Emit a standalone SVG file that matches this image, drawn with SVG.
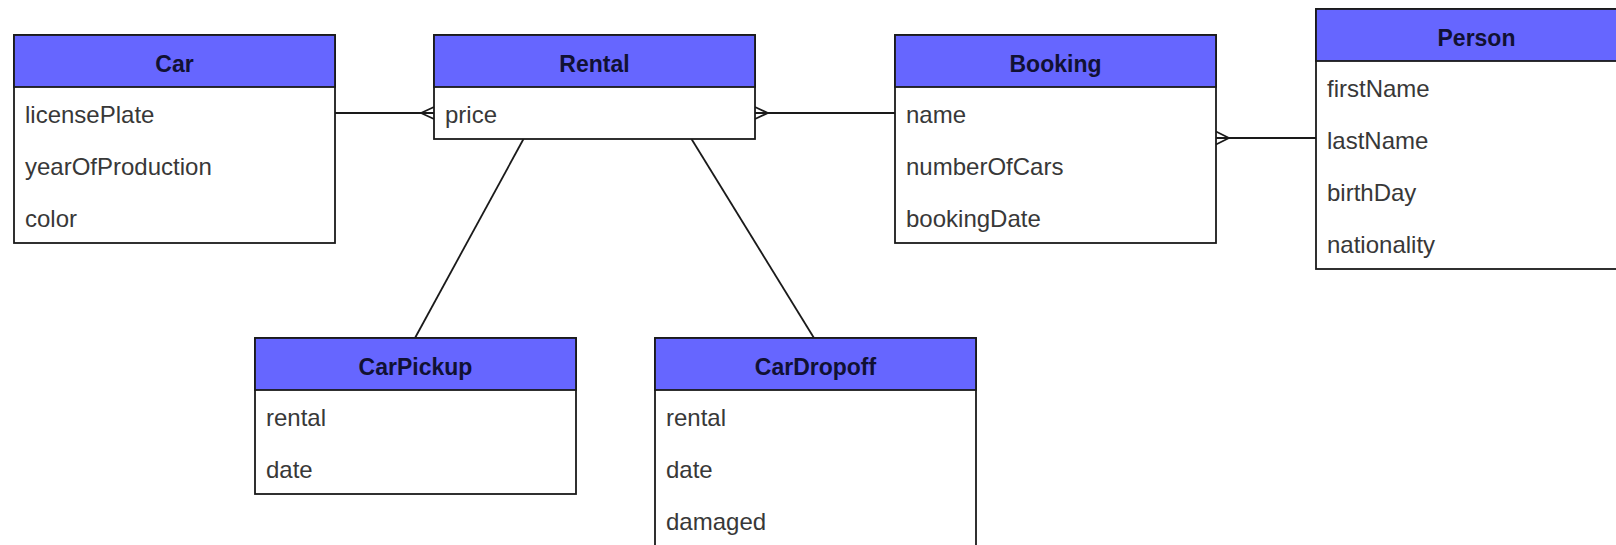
<svg xmlns="http://www.w3.org/2000/svg" width="1616" height="545" viewBox="0 0 1616 545">
  <style>
    .box { fill: #ffffff; stroke: #1a1a1a; stroke-width: 1.8; }
    .head { fill: #6666ff; stroke: #1a1a1a; stroke-width: 1.8; }
    .title { font-family: "Liberation Sans", Arial, sans-serif; font-size: 23px; font-weight: bold; fill: #111133; text-anchor: middle; }
    .field { font-family: "Liberation Sans", Arial, sans-serif; font-size: 24px; fill: #383838; }
    .link { fill: none; stroke: #1a1a1a; stroke-width: 1.8; }
  </style>
  <rect width="1616" height="545" fill="#ffffff"/>

  <!-- relationship lines with crow's-foot ends -->
  <g id="connectors">
    <!-- Car to Rental (many at Rental) -->
    <path class="link" d="M335 113 H434 M421 113 L434 107 M421 113 L434 119"/>
    <!-- Rental to Booking (many at Rental) -->
    <path class="link" d="M895 113 H755 M768 113 L755 107 M768 113 L755 119"/>
    <!-- Booking to Person (many at Booking) -->
    <path class="link" d="M1316 138 H1216 M1229 138 L1216 131.5 M1229 138 L1216 144.5"/>
    <!-- Rental to CarPickup -->
    <path class="link" d="M523.5 139 L415 338"/>
    <!-- Rental to CarDropoff -->
    <path class="link" d="M691.5 139 L814 338"/>
  </g>

  <g id="car">
    <rect class="box" x="14" y="35" width="321" height="208"/>
    <rect class="head" x="14" y="35" width="321" height="52"/>
    <text class="title" x="174.5" y="72">Car</text>
    <text class="field" x="25" y="122.5">licensePlate</text>
    <text class="field" x="25" y="174.5">yearOfProduction</text>
    <text class="field" x="25" y="226.5">color</text>
  </g>

  <g id="rental">
    <rect class="box" x="434" y="35" width="321" height="104"/>
    <rect class="head" x="434" y="35" width="321" height="52"/>
    <text class="title" x="594.5" y="72">Rental</text>
    <text class="field" x="445" y="122.5">price</text>
  </g>

  <g id="booking">
    <rect class="box" x="895" y="35" width="321" height="208"/>
    <rect class="head" x="895" y="35" width="321" height="52"/>
    <text class="title" x="1055.5" y="72">Booking</text>
    <text class="field" x="906" y="122.5">name</text>
    <text class="field" x="906" y="174.5">numberOfCars</text>
    <text class="field" x="906" y="226.5">bookingDate</text>
  </g>

  <g id="person">
    <rect class="box" x="1316" y="9" width="321" height="260"/>
    <rect class="head" x="1316" y="9" width="321" height="52"/>
    <text class="title" x="1476.5" y="46">Person</text>
    <text class="field" x="1327" y="96.5">firstName</text>
    <text class="field" x="1327" y="148.5">lastName</text>
    <text class="field" x="1327" y="200.5">birthDay</text>
    <text class="field" x="1327" y="252.5">nationality</text>
  </g>

  <g id="carpickup">
    <rect class="box" x="255" y="338" width="321" height="156"/>
    <rect class="head" x="255" y="338" width="321" height="52"/>
    <text class="title" x="415.5" y="375">CarPickup</text>
    <text class="field" x="266" y="425.5">rental</text>
    <text class="field" x="266" y="477.5">date</text>
  </g>

  <g id="cardropoff">
    <rect class="box" x="655" y="338" width="321" height="208"/>
    <rect class="head" x="655" y="338" width="321" height="52"/>
    <text class="title" x="815.5" y="375">CarDropoff</text>
    <text class="field" x="666" y="425.5">rental</text>
    <text class="field" x="666" y="477.5">date</text>
    <text class="field" x="666" y="529.5">damaged</text>
  </g>
</svg>
